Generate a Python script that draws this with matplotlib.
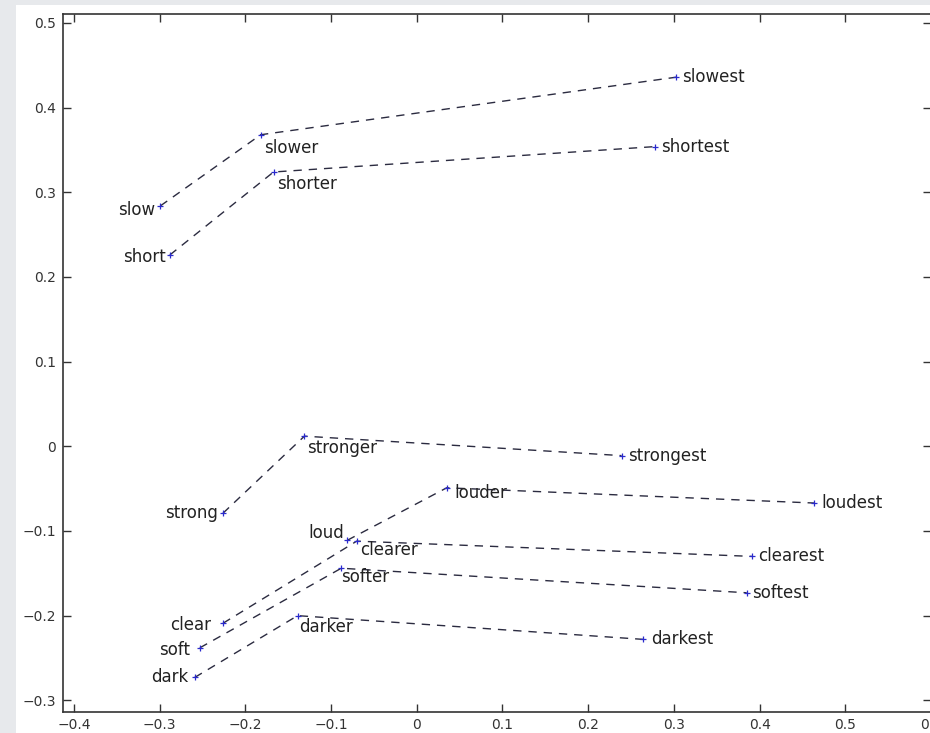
import matplotlib
matplotlib.use("Agg")
import matplotlib.pyplot as plt
from matplotlib.patches import Rectangle

# ---- data ----
groups = [
    ["slow", "slower", "slowest"],
    ["short", "shorter", "shortest"],
    ["strong", "stronger", "strongest"],
    ["loud", "louder", "loudest"],
    ["clear", "clearer", "clearest"],
    ["soft", "softer", "softest"],
    ["dark", "darker", "darkest"],
]
xs = [
    [-0.299, -0.182, 0.303],
    [-0.288, -0.167, 0.278],
    [-0.226, -0.131, 0.239],
    [-0.081, 0.035, 0.464],
    [-0.226, -0.070, 0.391],
    [-0.253, -0.088, 0.385],
    [-0.259, -0.139, 0.264],
]
ys = [
    [0.284, 0.368, 0.436],
    [0.226, 0.324, 0.354],
    [-0.079, 0.012, -0.011],
    [-0.111, -0.049, -0.067],
    [-0.209, -0.112, -0.130],
    [-0.238, -0.144, -0.173],
    [-0.273, -0.200, -0.228],
]
xticks = [-0.4, -0.3, -0.2, -0.1, 0, 0.1, 0.2, 0.3, 0.4, 0.5, 0.6]
yticks = [-0.3, -0.2, -0.1, 0, 0.1, 0.2, 0.3, 0.4, 0.5]

# label placement (pixel offsets, horizontal alignment) -- style only
label_style = [
    [(-5, -4, "right"), (3, -13, "left"), (6, 0, "left")],
    [(-4, -2, "right"), (4, -12, "left"), (6, 0, "left")],
    [(-5, 0, "right"), (3, -12, "left"), (6, 0, "left")],
    [(-3, 7, "right"), (8, -5, "left"), (7, 0, "left")],
    [(-12, -2, "right"), (3, -9, "left"), (6, 0, "left")],
    [(-10, -2, "right"), (0, -9, "left"), (5, 0, "left")],
    [(-6, 0, "right"), (2, -11, "left"), (8, 0, "left")],
]

W, H = 930, 733
fig = plt.figure(figsize=(W / 100, H / 100), dpi=100, facecolor="#e7e9ec")
fig.patches.append(Rectangle((16 / W, 0), 1 - 16 / W, 1 - 5 / H,
                             transform=fig.transFigure, facecolor="white",
                             edgecolor="none", zorder=-10))

left, right, top, bottom = 62.7, 931, 14, 712
ax = fig.add_axes([left / W, 1 - bottom / H, (right - left) / W, (bottom - top) / H])
ax.set_zorder(1)
ax.set_facecolor("white")

line_col = "#2b2b40"
for g, gx, gy, st in zip(groups, xs, ys, label_style):
    ax.plot(gx, gy, linestyle="--", color=line_col, lw=1.0, dashes=(6, 5), zorder=2)
    ax.plot(gx, gy, linestyle="none", marker="+", markersize=4,
            markeredgewidth=0.9, color="#2a2acc", zorder=3)
    for word, x, y, (dx, dy, ha) in zip(g, gx, gy, st):
        ax.annotate(word, (x, y), xytext=(dx, dy), textcoords="offset pixels",
                    ha=ha, va="center", fontsize=12, color="#222222",
                    family="DejaVu Sans")

ax.set_xlim(-0.413, 0.6)
ax.set_ylim(-0.3138, 0.5106)
ax.set_xticks(xticks)
ax.set_yticks(yticks)
ax.set_xticklabels([f"{t:g}".replace("-", "\u2212") for t in xticks])
ax.set_yticklabels([f"{t:g}".replace("-", "\u2212") for t in yticks])
ax.tick_params(direction="in", length=6, width=1.0, colors="#333333",
               labelsize=10, top=True, right=True, pad=5)
ax.tick_params(axis="x", pad=4)
for s in ax.spines.values():
    s.set_color("#333333")
    s.set_linewidth(1.2)

fig.savefig("out.png", dpi=100, facecolor=fig.get_facecolor())
